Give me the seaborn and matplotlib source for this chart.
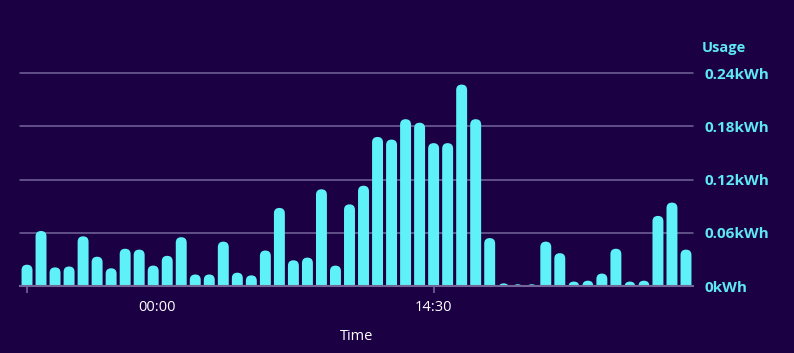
import numpy as np
import pandas as pd
import seaborn as sns
from matplotlib import pyplot as plt
from matplotlib.patches import FancyBboxPatch
from matplotlib.transforms import ScaledTranslation

# half-hourly usage in kWh (48 slots)
usage = [0.024, 0.062, 0.021, 0.022, 0.056, 0.033, 0.020, 0.042, 0.041, 0.023,
         0.034, 0.055, 0.013, 0.013, 0.050, 0.015, 0.012, 0.040, 0.088, 0.029,
         0.032, 0.109, 0.023, 0.092, 0.113, 0.168, 0.165, 0.188, 0.184, 0.161,
         0.161, 0.227, 0.188, 0.054, 0.003, 0.002, 0.002, 0.050, 0.037, 0.005,
         0.006, 0.014, 0.042, 0.005, 0.006, 0.079, 0.094, 0.041]
slots = list(range(len(usage)))
tick_pos = [0, 29]
tick_labels = ['00:00', '14:30']
y_ticks = [0, 0.06, 0.12, 0.18, 0.24]
y_labels = ['0kWh', '0.06kWh', '0.12kWh', '0.18kWh', '0.24kWh']

bg = '#1b0044'
bar_col = '#5ef2f8'
text_col = '#5ee8f2'
grid_col = '#75669a'

df = pd.DataFrame({'slot': slots, 'usage': usage})

sns.set_style('white')
plt.rcParams['font.family'] = ['Open Sans', 'DejaVu Sans']

W, H = 794, 353
fig = plt.figure(figsize=(W / 100, H / 100), dpi=100, facecolor=bg)
ax_left, ax_right = 20, 693
ax_bottom, ax_top = 286, 68.6
ax = fig.add_axes([ax_left / W, (H - ax_bottom) / H,
                   (ax_right - ax_left) / W, (ax_bottom - ax_top) / H])
ax.set_facecolor(bg)

sns.barplot(data=df, x='slot', y='usage', color=bar_col, saturation=1,
            width=0.78, ax=ax, zorder=3)
ax.set_xlim(-0.5, len(usage) - 0.5)
ax.set_ylim(0, 0.245)

# round the bar tops: swap each rectangle for a rounded box
px_x = (len(usage)) / (ax_right - ax_left)
px_y = 0.245 / (ax_bottom - ax_top)
aspect = px_y / px_x
for p in list(ax.patches):
    x0, w, h = p.get_x(), p.get_width(), p.get_height()
    r = w / 2
    fb = FancyBboxPatch((x0, -0.02), w, h + 0.02,
                        boxstyle=f'round,pad=0,rounding_size={r}',
                        mutation_aspect=aspect, facecolor=bar_col,
                        edgecolor='none', zorder=3)
    p.remove()
    ax.add_patch(fb)

# grid and axis
for yv in y_ticks[1:]:
    ax.axhline(yv, color=grid_col, lw=1.1, zorder=1, clip_on=False)
for s in ['top', 'right', 'left']:
    ax.spines[s].set_visible(False)
ax.spines['bottom'].set_color(grid_col)
ax.spines['bottom'].set_linewidth(1.5)
ax.spines['bottom'].set_zorder(4)

ax.set_xticks(tick_pos)
ax.set_xticklabels(tick_labels, color='white', fontsize=10.5)
ax.tick_params(axis='x', length=5, width=1.2, color=grid_col, pad=5, bottom=True)
# the first label sits off its tick in the original
lbls = ax.get_xticklabels()
lbls[0].set_transform(lbls[0].get_transform() + ScaledTranslation(1.30, 0, fig.dpi_scale_trans))

ax.yaxis.tick_right()
ax.set_yticks(y_ticks)
ax.set_yticklabels(y_labels, color=text_col, fontsize=11, fontweight='bold')
ax.tick_params(axis='y', length=0, pad=8)

ax.set_xlabel('Time', color='white', fontsize=10.5, labelpad=10)
ax.set_ylabel('')
fig.text(702 / W, 1 - 48 / H, 'Usage', color=text_col, fontsize=10.5,
         fontweight='bold', ha='left', va='center')

plt.savefig('out.png', dpi=100, facecolor=bg)
